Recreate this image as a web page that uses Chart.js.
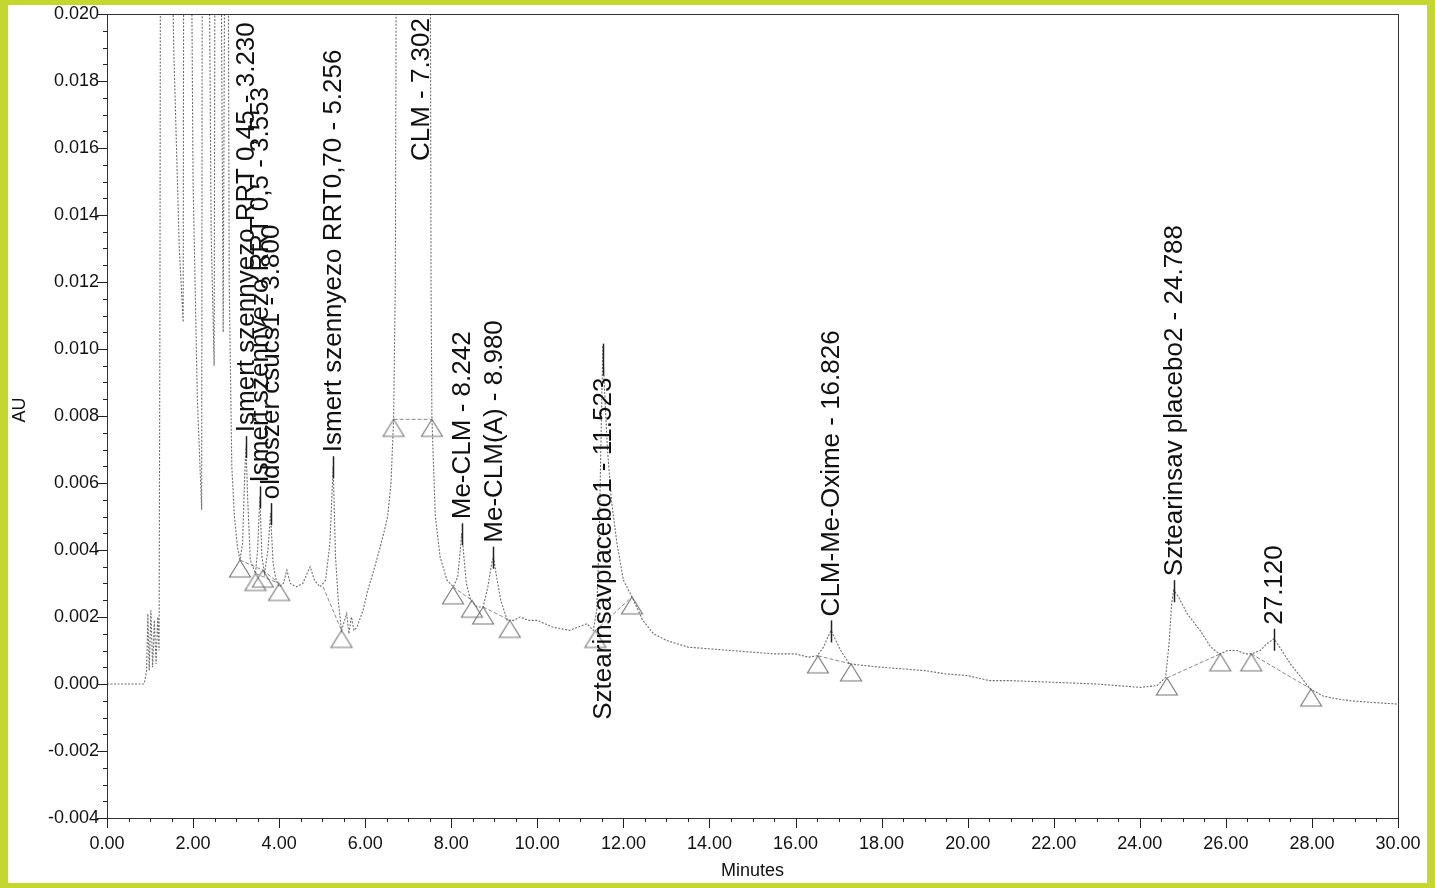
<!DOCTYPE html>
<html><head><meta charset="utf-8">
<script src="https://cdn.jsdelivr.net/npm/chart.js@4"></script>
<style>html,body{margin:0;padding:0;background:#fff;}canvas{display:block;}</style>
</head><body>
<canvas id="c" width="1435" height="888"></canvas>
<script>
// ---- chromatogram trace (minutes, AU) ----
const traceTimes = [0.00,0.50,0.85,0.88,0.92,0.95,0.98,1.02,1.06,1.10,1.14,1.18,1.21,1.23,1.25,1.42,1.55,1.68,1.77,1.79,1.92,2.00,2.10,2.20,2.22,2.33,2.42,2.49,2.52,2.62,2.70,2.76,2.80,2.84,2.90,2.96,3.03,3.09,3.15,3.20,3.23,3.27,3.33,3.45,3.50,3.553,3.60,3.66,3.74,3.80,3.86,3.93,4.00,4.10,4.18,4.26,4.40,4.55,4.65,4.72,4.82,4.95,5.08,5.18,5.256,5.31,5.38,5.45,5.52,5.57,5.62,5.68,5.74,5.81,5.95,6.06,6.20,6.33,6.45,6.52,6.60,6.66,6.70,6.74,7.50,7.53,7.55,7.58,7.63,7.74,7.90,8.05,8.15,8.21,8.242,8.28,8.35,8.45,8.60,8.74,8.85,8.94,8.98,9.04,9.15,9.30,9.45,9.60,9.80,10.00,10.35,10.75,10.95,11.15,11.30,11.38,11.44,11.49,11.523,11.56,11.63,11.72,11.85,12.00,12.20,12.45,12.70,13.00,13.50,14.00,14.50,15.00,15.50,16.00,16.30,16.50,16.65,16.75,16.826,16.90,17.05,17.25,17.60,18.00,18.50,19.00,19.50,20.00,20.50,21.00,22.00,23.00,23.50,24.00,24.40,24.60,24.68,24.74,24.788,24.90,25.10,25.40,25.65,25.85,26.05,26.26,26.45,26.60,26.80,26.95,27.12,27.25,27.50,27.75,27.96,28.26,28.60,28.90,29.40,30.00];
const traceValues = [0,0,0,0.0001,0.0004,0.0021,0.0004,0.0022,0.0005,0.0019,0.0006,0.0020,0.0010,0.0111,0.030,0.030,0.019,0.013,0.0108,0.030,0.030,0.015,0.0085,0.0052,0.030,0.030,0.0135,0.0095,0.030,0.030,0.0105,0.030,0.030,0.0120,0.0065,0.0050,0.0041,0.0037,0.0042,0.0062,0.0071,0.0055,0.0037,0.0033,0.0040,0.0056,0.0038,0.0033,0.0040,0.0051,0.0036,0.0031,0.0029,0.0030,0.0034,0.0030,0.0029,0.0030,0.0033,0.0035,0.0031,0.0029,0.0031,0.0042,0.0065,0.0038,0.0024,0.0016,0.0019,0.0021,0.0015,0.0020,0.0016,0.0017,0.0022,0.0028,0.0034,0.0040,0.0046,0.0050,0.0060,0.0079,0.0120,0.030,0.030,0.0120,0.0080,0.0068,0.0050,0.0038,0.0031,0.0029,0.0032,0.0040,0.0045,0.0040,0.0030,0.0025,0.0023,0.0023,0.0029,0.0036,0.0038,0.0033,0.0025,0.0019,0.0019,0.0020,0.0019,0.0019,0.0017,0.0016,0.0017,0.0018,0.0016,0.0022,0.0045,0.0080,0.0101,0.0088,0.0070,0.0055,0.0042,0.0031,0.0026,0.0019,0.0015,0.0013,0.0011,0.00105,0.0010,0.00095,0.0009,0.0009,0.0008,0.00084,0.0011,0.0014,0.0016,0.0014,0.0010,0.0006,0.00055,0.0005,0.00045,0.0004,0.0003,0.00025,0.0001,0.0001,0.00005,0.0,-0.00005,-0.0001,-0.00005,0.0002,0.0012,0.0024,0.0028,0.0026,0.0021,0.0016,0.0011,0.0009,0.0010,0.0010,0.0009,0.0009,0.0010,0.0012,0.00135,0.0011,0.0006,0.0002,-0.00015,-0.00036,-0.00045,-0.0005,-0.00055,-0.0006];

// ---- labelled peaks ----
const peakTimes = [3.230,3.553,3.800,5.256,7.302,8.242,8.980,11.523,16.826,24.788,27.120];
const peakHeights = [0.0071,0.0056,0.0051,0.0065,0.030,0.0045,0.0038,0.0101,0.0016,0.0028,0.00135];
const peakLabels = ["Ismert szennyezo RRT 0,45 - 3.230","Ismert szennyezo RRT 0,5 - 3.553","oldoszer csucs1 - 3.800","Ismert szennyezo RRT0,70 - 5.256","CLM - 7.302","Me-CLM - 8.242","Me-CLM(A) - 8.980","Sztearinsavplacebo1 - 11.523","CLM-Me-Oxime - 16.826","Sztearinsav placebo2 - 24.788","27.120"];

// ---- integration markers (peak start/end) ----
const markerTimes = [3.09,3.45,3.62,4.00,5.45,6.66,7.55,8.04,8.48,8.74,9.36,11.35,12.20,16.52,17.29,24.63,25.87,26.59,27.98];
const markerValues = [0.0037,0.0033,0.0034,0.0030,0.0016,0.0079,0.0079,0.0029,0.0025,0.0023,0.0019,0.0016,0.0026,0.00084,0.0006,0.00018,0.0009,0.0009,-0.00015];

// ---- integration baselines ----
const baseStartTimes = [3.09,3.45,3.62,5.02,6.66,8.04,8.74,11.35,16.52,24.63,26.59];
const baseStartValues = [0.0037,0.0033,0.0034,0.0029,0.0079,0.0029,0.0023,0.0016,0.00084,0.00018,0.0009];
const baseEndTimes = [3.62,4.00,4.00,5.45,7.55,8.48,9.36,12.20,17.29,25.87,27.98];
const baseEndValues = [0.0034,0.0030,0.0030,0.0016,0.0079,0.0025,0.0019,0.0026,0.0006,0.0009,-0.00015];

// ---- axis ticks ----
const xTickValues = [0,2,4,6,8,10,12,14,16,18,20,22,24,26,28,30];
const yTickValues = [-0.004,-0.002,0,0.002,0.004,0.006,0.008,0.010,0.012,0.014,0.016,0.018,0.020];

const FONT = "'Liberation Sans', Arial, sans-serif";

function makeTriangle(){
  const c = document.createElement('canvas');
  c.width = 26; c.height = 38;
  const g = c.getContext('2d');
  g.strokeStyle = 'rgba(95,95,95,0.85)';
  g.lineWidth = 1.1;
  g.beginPath(); g.moveTo(13,19); g.lineTo(2.5,36); g.lineTo(23.5,36); g.closePath(); g.stroke();
  return c;
}
const tri = makeTriangle();

const baselineData = [];
baseStartTimes.forEach((t,i)=>{
  baselineData.push({x:t,y:baseStartValues[i]});
  baselineData.push({x:baseEndTimes[i],y:baseEndValues[i]});
  baselineData.push({x:(t+baseEndTimes[i])/2,y:null});
});

const decor = {
  id:'decor',
  beforeDraw(chart){
    const ctx = chart.ctx;
    ctx.save();
    ctx.fillStyle = '#c4d72e';
    ctx.fillRect(0,0,chart.width,chart.height);
    ctx.fillStyle = '#ffffff';
    ctx.fillRect(8,5,chart.width-16,chart.height-10);
    ctx.restore();
  },
  afterDraw(chart){
    const ctx = chart.ctx, a = chart.chartArea;
    const xs = chart.scales.x, ys = chart.scales.y;
    ctx.save();
    // frame
    ctx.strokeStyle = '#333'; ctx.lineWidth = 1;
    ctx.strokeRect(Math.round(a.left)+0.5, Math.round(a.top)+0.5, Math.round(a.right-a.left), Math.round(a.bottom-a.top));
    // x ticks (major & minor)
    ctx.strokeStyle = '#222'; ctx.lineWidth = 1;
    for(let i=0;i<=60;i++){
      const px = Math.round(xs.getPixelForValue(i*0.5))+0.5;
      const len = (i%4===0)?10:4;
      ctx.beginPath(); ctx.moveTo(px,a.bottom); ctx.lineTo(px,a.bottom+len); ctx.stroke();
    }
    for(let i=0;i<=48;i++){
      const py = Math.round(ys.getPixelForValue(-0.004+i*0.0005))+0.5;
      const len = (i%4===0)?10:4;
      ctx.beginPath(); ctx.moveTo(a.left-len,py); ctx.lineTo(a.left,py); ctx.stroke();
    }
    // axis titles
    ctx.fillStyle = '#111';
    ctx.font = '18px ' + FONT;
    ctx.textAlign = 'center'; ctx.textBaseline = 'middle';
    ctx.fillText('Minutes', (a.left+a.right)/2, 871);
    ctx.save();
    ctx.translate(20,(a.top+a.bottom)/2 - 6);
    ctx.rotate(-Math.PI/2);
    ctx.fillText('AU',0,0);
    ctx.restore();
    // peak labels
    ctx.font = '26px ' + FONT;
    const yMax = ys.max;
    peakTimes.forEach((t,i)=>{
      const px = xs.getPixelForValue(t);
      const h = peakHeights[i];
      const peakPx = ys.getPixelForValue(Math.min(h,yMax));
      const len = ctx.measureText(peakLabels[i]).width;
      let start, tick = null;
      if(h > yMax){
        start = a.top + 4 + len;
      } else {
        start = peakPx - 14;
        tick = [peakPx-10, peakPx+12];
        if(start - len < a.top + 2){
          start = peakPx + 32 + len;
          tick = [peakPx-2, peakPx+30];
        }
      }
      ctx.save();
      ctx.translate(px + 1, start);
      ctx.rotate(-Math.PI/2);
      ctx.textAlign = 'left'; ctx.textBaseline = 'middle';
      ctx.fillStyle = '#111';
      ctx.fillText(peakLabels[i],0,0);
      ctx.restore();
      if(tick){
        ctx.strokeStyle = '#222'; ctx.lineWidth = 1.5;
        ctx.beginPath(); ctx.moveTo(Math.round(px)+0.5,tick[0]); ctx.lineTo(Math.round(px)+0.5,tick[1]); ctx.stroke();
      }
    });
    ctx.restore();
  }
};

new Chart(document.getElementById('c'),{
  type:'line',
  data:{
    datasets:[
      {
        label:'trace',
        data: traceTimes.map((t,i)=>({x:t,y:traceValues[i]})),
        borderColor:'rgba(85,85,85,0.85)', borderWidth:1.1, borderDash:[2,1.5],
        pointRadius:0, tension:0, fill:false
      },
      {
        label:'baseline',
        data: baselineData,
        borderColor:'rgba(110,110,110,0.8)', borderWidth:1, borderDash:[4,2],
        pointRadius:0, tension:0, spanGaps:false, fill:false
      },
      {
        label:'markers',
        data: markerTimes.map((t,i)=>({x:t,y:markerValues[i]})),
        showLine:false, pointStyle: tri, pointRadius:10
      }
    ]
  },
  options:{
    responsive:false, animation:false, devicePixelRatio:1,
    layout:{padding:{top:14,right:37,left:0,bottom:0}},
    plugins:{legend:{display:false},tooltip:{enabled:false}},
    scales:{
      x:{
        type:'linear', min:0, max:30,
        afterBuildTicks:s=>{ s.ticks = xTickValues.map(v=>({value:v})); },
        afterFit:s=>{ s.height = 70; s.paddingLeft = 0; s.paddingRight = 0; },
        grid:{display:false, drawTicks:false}, border:{display:false},
        ticks:{callback:v=>Number(v).toFixed(2), font:{family:FONT,size:18}, color:'#111', padding:15, maxRotation:0, autoSkip:false}
      },
      y:{
        type:'linear', min:-0.004, max:0.020,
        afterBuildTicks:s=>{ s.ticks = yTickValues.map(v=>({value:v})); },
        afterFit:s=>{ s.width = 107; s.paddingTop = 0; s.paddingBottom = 0; },
        grid:{display:false, drawTicks:false}, border:{display:false},
        ticks:{callback:v=>Number(v).toFixed(3), font:{family:FONT,size:18}, color:'#111', padding:8, autoSkip:false}
      }
    }
  },
  plugins:[decor]
});
</script>
</body></html>
